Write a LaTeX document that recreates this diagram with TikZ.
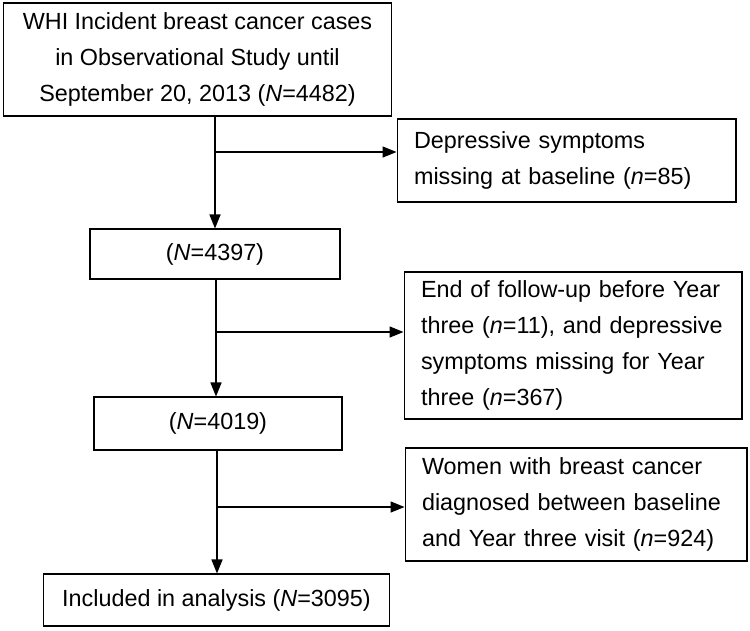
\documentclass[tikz,border=0pt]{standalone}
\usepackage{fontspec}
\setmainfont{Liberation Sans}
\usepackage{tikz}
\usetikzlibrary{arrows.meta,positioning}

\begin{document}
\begin{tikzpicture}[x=0.02cm, y=-0.02cm,
    every node/.style={font=\fontsize{13.3}{20.5}\selectfont},
    mainbox/.style={draw, line width=0.6pt, align=center, inner sep=0pt},
    sidebox/.style={draw, line width=0.6pt, align=left, inner xsep=0.34cm, inner ysep=0pt},
    flow/.style={line width=0.85pt, -{Triangle[length=0.28cm, width=0.22cm]}}]
  \useasboundingbox (0,0) rectangle (750,630);

  % MAIN COLUMN
  \node[mainbox, minimum width=7.78cm, minimum height=2.26cm] (whi) at (197.5, 59.5)
    {WHI Incident breast cancer cases\\in Observational Study until\\September 20, 2013 (\textit{N}=4482)};
  \node[mainbox, minimum width=5.0cm, minimum height=1.0cm] (n4397) at (215, 254) {(\textit{N}=4397)};
  \node[mainbox, minimum width=4.96cm, minimum height=1.06cm] (n4019) at (218, 423.5) {(\textit{N}=4019)};
  \node[mainbox, minimum width=6.94cm, minimum height=1.04cm] (final) at (216.5, 600) {Included in analysis (\textit{N}=3095)};

  % EXCLUSION BOXES
  \node[sidebox, text width=6.10cm, minimum height=1.66cm] (exA) at (566.5, 160.5)
    {Depressive symptoms\\missing at baseline (\textit{n}=85)};
  \node[sidebox, text width=6.08cm, minimum height=2.94cm] (exB) at (573, 345.5)
    {End of follow-up before Year\\three (\textit{n}=11), and depressive\\symptoms missing for Year\\three (\textit{n}=367)};
  \node[sidebox, text width=6.16cm, minimum height=2.26cm] (exC) at (576, 504.5)
    {Women with breast cancer\\diagnosed between baseline\\and Year three visit (\textit{n}=924)};

  % BRANCH POINTS
  \coordinate (j1) at (215, 152);
  \coordinate (j2) at (216, 332);
  \coordinate (j3) at (217, 507);

  % CONNECTORS
  \draw[flow] (whi.south -| n4397.north) -- (n4397.north);
  \draw[flow] (j1) -- (j1 -| exA.west);
  \draw[flow] (n4397.south -| j2) -- (n4019.north -| j2);
  \draw[flow] (j2) -- (j2 -| exB.west);
  \draw[flow] (n4019.south -| j3) -- (final.north -| j3);
  \draw[flow] (j3) -- (j3 -| exC.west);
\end{tikzpicture}
\end{document}
